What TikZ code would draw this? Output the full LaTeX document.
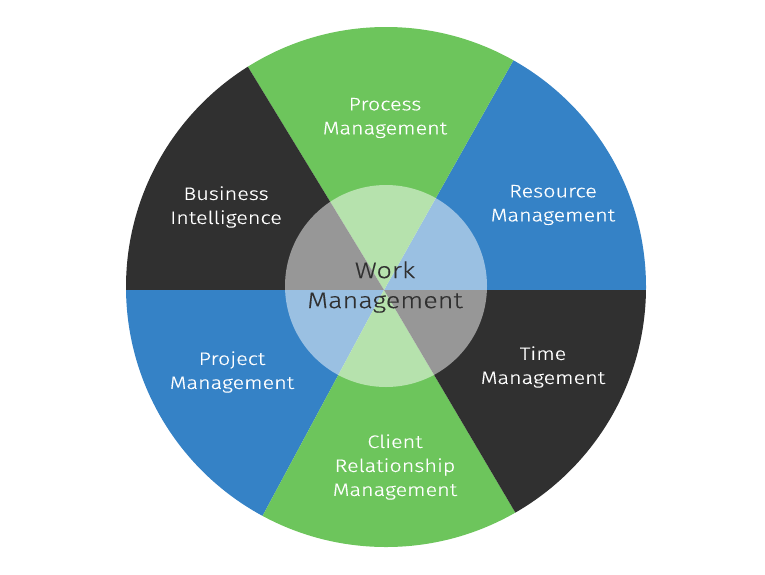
\documentclass[tikz,border=0pt]{standalone}
\usepackage{fontspec}
\setmainfont{Fira Sans}[UprightFont=* Light, FakeStretch=1.2, FakeBold=0.4]
\usetikzlibrary{calc}
\begin{document}
\begin{tikzpicture}[x=1pt,y=-1pt]
\definecolor{wgreen}{HTML}{6DC55C}
\definecolor{wblue}{HTML}{3582C6}
\definecolor{wdark}{HTML}{303030}
\tikzset{
  lbl/.style={text=white, align=center, font=\fontsize{18}{24}\selectfont, inner sep=0pt},
  centerlbl/.style={text=wdark, align=center, font=\fontsize{22.5}{30}\selectfont, inner sep=0pt},
}
\useasboundingbox (0,0) rectangle (765,574);
\coordinate (A) at (384,290);
\coordinate (pR) at (646,290);
\coordinate (pTR) at (513,61);
\coordinate (pTL) at (248,67);
\coordinate (pL) at (126,290);
\coordinate (pBL) at (263,515);
\coordinate (pBR) at (515,512);
\begin{scope}
\clip (386,287) circle (260);
\fill[wblue]  (A) -- ($(A)!2!(pR)$) -- ($(A)!2!(pTR)$) -- cycle;
\fill[wgreen] (A) -- ($(A)!2!(pTR)$) -- ($(A)!2!(pTL)$) -- cycle;
\fill[wdark]  (A) -- ($(A)!2!(pTL)$) -- ($(A)!2!(pL)$) -- cycle;
\fill[wblue]  (A) -- ($(A)!2!(pL)$) -- ($(A)!2!(pBL)$) -- cycle;
\fill[wgreen] (A) -- ($(A)!2!(pBL)$) -- ($(A)!2!(pBR)$) -- cycle;
\fill[wdark]  (A) -- ($(A)!2!(pBR)$) -- ($(A)!2!(pR)$) -- cycle;
\end{scope}
\fill[white, fill opacity=0.5] (386,286) circle (101);
\node[lbl] (proc) at (385,118) {Process\\Management};
\node[lbl] (bi) at (226,207) {Business\\Intelligence};
\node[lbl] (res) at (553,205) {Resource\\Management};
\node[lbl] (proj) at (232,372) {Project\\Management};
\node[lbl] (time) at (543,367) {Time\\Management};
\node[lbl] (crm) at (395,467) {Client\\Relationship\\Management};
\node[centerlbl] (work) at (385,287) {Work\\Management};
\end{tikzpicture}
\end{document}
